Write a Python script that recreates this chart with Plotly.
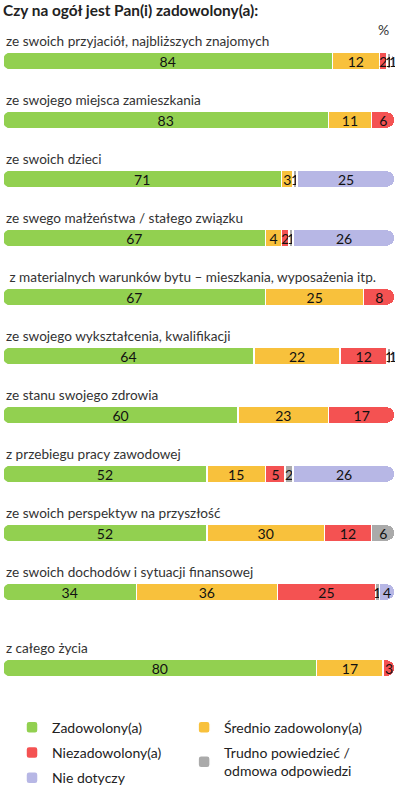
import plotly.graph_objects as go

# pytania (kategorie) i odpowiedzi w %
kategorie = [
    "ze swoich przyjaciół, najbliższych znajomych",
    "ze swojego miejsca zamieszkania",
    "ze swoich dzieci",
    "ze swego małżeństwa / stałego związku",
    " z materialnych warunków bytu – mieszkania, wyposażenia itp.",
    "ze swojego wykształcenia, kwalifikacji",
    "ze stanu swojego zdrowia",
    "z przebiegu pracy zawodowej",
    "ze swoich perspektyw na przyszłość",
    "ze swoich dochodów i sytuacji finansowej",
    "z całego życia",
]
zadowolony = [84, 83, 71, 67, 67, 64, 60, 52, 52, 34, 80]
srednio = [12, 11, 3, 4, 25, 22, 23, 15, 30, 36, 17]
niezadowolony = [2, 6, 0, 2, 8, 12, 17, 5, 12, 25, 3]
trudno = [1, 0, 1, 1, 0, 1, 0, 2, 6, 1, 0]
nie_dotyczy = [1, 0, 25, 26, 0, 1, 0, 26, 0, 4, 0]

serie = [
    ("Zadowolony(a)", zadowolony, "#92d050", "legend"),
    ("Średnio zadowolony(a)", srednio, "#f8c13c", "legend2"),
    ("Niezadowolony(a)", niezadowolony, "#f45252", "legend"),
    ("Trudno powiedzieć /<br>odmowa odpowiedzi", trudno, "#aaaaaa", "legend2"),
    ("Nie dotyczy", nie_dotyczy, "#b7b7e5", "legend"),
]

FONT = "Lato"
# pozycje wierszy: ostatni wiersz nieco odsunięty
ypos = [i for i in range(len(kategorie) - 1)] + [len(kategorie) - 1 + 0.29]

fig = go.Figure()
for i, (nazwa, wart, kolor, leg) in enumerate(serie):
    fig.add_trace(go.Bar(
        y=ypos, x=wart, name=nazwa, orientation="h",
        marker=dict(color=kolor, line=dict(color="white", width=1.5)),
        text=[str(v) if v > 0 else "" for v in wart],
        textposition="inside", insidetextanchor="middle", textangle=0,
        insidetextfont=dict(family=FONT, size=14, color="#111111"),
        width=0.29, legend=leg, legendgroup=nazwa,
        hoverinfo="skip",
    ))

# etykiety kategorii nad paskami
for y, k in zip(ypos, kategorie):
    fig.add_annotation(x=0, y=y - 0.34, xref="paper", yref="y", text=k,
                       showarrow=False, xanchor="left", yanchor="middle", xshift=1,
                       font=dict(family=FONT, size=13.6, color="#333333"))
    # zaokrąglenie lewego końca paska (biała maska narożników)
    fig.add_shape(type="path", xref="x", yref="y", xsizemode="pixel", ysizemode="pixel",
                  xanchor=0, yanchor=y, layer="above",
                  path="M -2,10 L 8.5,10 L 8.5,8.6 Q 0,8.6 0,0 Q 0,-8.6 8.5,-8.6 L 8.5,-10 L -2,-10 Z",
                  fillcolor="white", line=dict(width=0))

fig.add_annotation(x=0.99, y=-0.53, xref="paper", yref="y", text="%", showarrow=False,
                   font=dict(family=FONT, size=14, color="#333333"))

fig.update_layout(
    width=400, height=791,
    barmode="stack", barcornerradius=9,
    margin=dict(l=3, r=5, t=2, b=81, autoexpand=False),
    paper_bgcolor="white", plot_bgcolor="white",
    title=dict(text="<b>Czy na ogół jest Pan(i) zadowolony(a):</b>", x=0.0075, xanchor="left",
               y=0.986, yanchor="middle",
               font=dict(family=FONT, size=15.4, color="#222222")),
    xaxis=dict(range=[0, 100], visible=False, fixedrange=True),
    yaxis=dict(range=[11, -1], visible=False, fixedrange=True),
    uniformtext=dict(minsize=14, mode="show"),
    legend=dict(x=0.023, y=-0.0025, xanchor="left", yanchor="top", orientation="v",
                tracegroupgap=4, font=dict(family=FONT, size=14, color="#222222"),
                bgcolor="rgba(0,0,0,0)"),
    legend2=dict(x=0.462, y=-0.0025, xanchor="left", yanchor="top", orientation="v",
                 tracegroupgap=4, font=dict(family=FONT, size=14, color="#222222"),
                 bgcolor="rgba(0,0,0,0)"),
    showlegend=True,
)

fig.write_html("out.html", config={"displayModeBar": False, "staticPlot": True},
               post_script="document.body.style.margin='0';")
